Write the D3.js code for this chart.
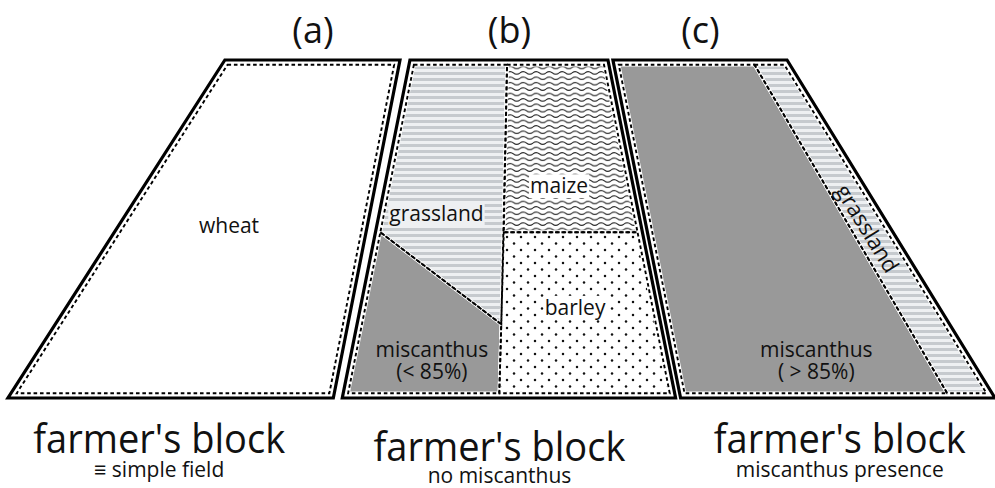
<!DOCTYPE html>
<html>
<head>
<meta charset="utf-8">
<script src="https://cdn.jsdelivr.net/npm/d3@7"></script>
<style>
  body { margin: 0; background: #fff; }
  text { font-family: "Open Sans", "Noto Sans", sans-serif; fill: #111; }
</style>
</head>
<body>
<script>
// block letters and captions
var blockIds = ['(a)', '(b)', '(c)'];
var blockTitles = ["farmer's block", "farmer's block", "farmer's block"];
var blockSubtitles = ['\u2261 simple field', 'no miscanthus', 'miscanthus presence'];
var captionX = [16.0, 50.2, 84.4];
var captionDrop = [0, 8, 0];

// field outlines in plan units (0-100 across, 0-100 top to bottom)
var blockTop = [[22.6, 40.2], [41.2, 61.1], [61.6, 79.1]];
var blockBottom = [[0.8, 33.5], [34.4, 67.9], [68.4, 100]];

// crop parcels inside each block, as (u, v) fractions of the inner field
var parcels = [
  [ {crop: 'wheat', pts: [[0, 0], [1, 0], [1, 1], [0, 1]]} ],
  [ {crop: 'grass', pts: [[0, 0], [0.49, 0], [0.474, 0.79], [0, 0.51]]},
    {crop: 'misc', pts: [[0, 0.51], [0.474, 0.79], [0.47, 1], [0, 1]]},
    {crop: 'maize', pts: [[0.49, 0], [1, 0], [1, 0.51], [0.48, 0.51]]},
    {crop: 'barley', pts: [[0.48, 0.51], [1, 0.51], [1, 1], [0.47, 1]]} ],
  [ {crop: 'misc', pts: [[0, 0], [0.82, 0], [0.87, 1], [0, 1]]},
    {crop: 'grass', pts: [[0.82, 0], [1, 0], [1, 1], [0.87, 1]]} ]
];

// labels: block, u, v, text lines, background
var labels = [
  {b: 0, u: 0.44, v: 0.49, lines: ['wheat'], bg: null, rot: 0, size: 21},
  {b: 1, u: 0.21, v: 0.455, lines: ['grassland'], bg: '#eef0f2', rot: 0, size: 21},
  {b: 1, u: 0.71, v: 0.37, lines: ['maize'], bg: '#fff', rot: 0, size: 21},
  {b: 1, u: 0.73, v: 0.74, lines: ['barley'], bg: '#fff', rot: 0, size: 21},
  {b: 1, u: 0.25, v: 0.9, lines: ['miscanthus', '(< 85%)'], bg: null, rot: 0, size: 21},
  {b: 2, u: 0.48, v: 0.9, lines: ['miscanthus', '( > 85%)'], bg: null, rot: 0, size: 21},
  {b: 2, u: 0.92, v: 0.5, lines: ['grassland'], bg: null, rot: 58.4, size: 22}
];

var width = 995, height = 488;
var x = d3.scaleLinear().domain([0, 100]).range([0, 995]);
var y = d3.scaleLinear().domain([0, 100]).range([60, 398]);
var inset = 4.8;

var svg = d3.select('body').append('svg')
  .attr('width', width).attr('height', height);

var defs = svg.append('defs');

var grass = defs.append('pattern').attr('id', 'grass')
  .attr('patternUnits', 'userSpaceOnUse').attr('width', 10).attr('height', 6);
grass.append('rect').attr('width', 10).attr('height', 6).attr('fill', '#eef0f2');
grass.append('rect').attr('width', 10).attr('height', 3).attr('fill', '#c6cace');

var maize = defs.append('pattern').attr('id', 'maize')
  .attr('patternUnits', 'userSpaceOnUse').attr('width', 13).attr('height', 5.4);
maize.append('rect').attr('width', 13).attr('height', 5.4).attr('fill', '#fff');
maize.append('path').attr('d', 'M0,2.7 Q3.25,0.1 6.5,2.7 T13,2.7')
  .attr('fill', 'none').attr('stroke', '#222').attr('stroke-width', 1);

var barley = defs.append('pattern').attr('id', 'barley')
  .attr('patternUnits', 'userSpaceOnUse').attr('width', 14).attr('height', 13);
barley.append('rect').attr('width', 14).attr('height', 13).attr('fill', '#fff');
barley.append('circle').attr('cx', 3).attr('cy', 3).attr('r', 1.25).attr('fill', '#111');
barley.append('circle').attr('cx', 10).attr('cy', 9.5).attr('r', 1.25).attr('fill', '#111');

var cropFill = {wheat: '#fff', grass: 'url(#grass)', maize: 'url(#maize)',
  barley: 'url(#barley)', misc: '#999'};

function outer(i) {
  return [[x(blockTop[i][0]), y(0)], [x(blockTop[i][1]), y(0)],
          [x(blockBottom[i][1]), y(100)], [x(blockBottom[i][0]), y(100)]];
}

// move each edge inward and intersect neighbours
function shrink(poly, d) {
  var n = poly.length, lines = [];
  for (var k = 0; k < n; k++) {
    var p = poly[k], q = poly[(k + 1) % n];
    var dx = q[0] - p[0], dy = q[1] - p[1], l = Math.sqrt(dx * dx + dy * dy);
    var nx = -dy / l * d, ny = dx / l * d;
    lines.push([[p[0] + nx, p[1] + ny], [q[0] + nx, q[1] + ny]]);
  }
  var out = [];
  for (var k = 0; k < n; k++) {
    var a = lines[(k + n - 1) % n], b = lines[k];
    var x1 = a[0][0], y1 = a[0][1], x2 = a[1][0], y2 = a[1][1];
    var x3 = b[0][0], y3 = b[0][1], x4 = b[1][0], y4 = b[1][1];
    var den = (x1 - x2) * (y3 - y4) - (y1 - y2) * (x3 - x4);
    var t = ((x1 - x3) * (y3 - y4) - (y1 - y3) * (x3 - x4)) / den;
    out.push([x1 + t * (x2 - x1), y1 + t * (y2 - y1)]);
  }
  return out;
}

function mapper(q) {
  return function(uv) {
    var u = uv[0], v = uv[1];
    var lx = q[0][0] + (q[3][0] - q[0][0]) * v, ly = q[0][1] + (q[3][1] - q[0][1]) * v;
    var rx = q[1][0] + (q[2][0] - q[1][0]) * v, ry = q[1][1] + (q[2][1] - q[1][1]) * v;
    return [lx + (rx - lx) * u, ly + (ry - ly) * u];
  };
}

var line = d3.line().curve(d3.curveLinearClosed);

blockIds.forEach(function(id, i) {
  var g = svg.append('g');
  var o = outer(i);
  var inner = shrink(o, inset);
  var m = mapper(inner);

  g.append('path').attr('d', line(o))
    .attr('fill', '#fff').attr('stroke', '#000')
    .attr('stroke-width', 3.2).attr('stroke-linejoin', 'miter');

  var shapes = parcels[i].map(function(p) {
    return {crop: p.crop, d: line(p.pts.map(m))};
  });

  g.selectAll('path.fill').data(shapes).enter().append('path')
    .attr('class', 'fill').attr('d', function(d) { return d.d; })
    .attr('fill', function(d) { return cropFill[d.crop]; });
  g.selectAll('path.halo').data(shapes).enter().append('path')
    .attr('class', 'halo').attr('d', function(d) { return d.d; })
    .attr('fill', 'none').attr('stroke', '#fff').attr('stroke-width', 3.4);
  g.selectAll('path.dash').data(shapes).enter().append('path')
    .attr('class', 'dash').attr('d', function(d) { return d.d; })
    .attr('fill', 'none').attr('stroke', '#000').attr('stroke-width', 1.9)
    .attr('stroke-dasharray', '3.6,2.8');

  labels.filter(function(l) { return l.b === i; }).forEach(function(l) {
    var c = m([l.u, l.v]);
    var lg = g.append('g').attr('transform', 'translate(' + c[0] + ',' + c[1] + ') rotate(' + l.rot + ')');
    var rect = lg.append('rect');
    var t = lg.append('text').attr('text-anchor', 'middle').attr('font-size', l.size);
    t.selectAll('tspan').data(l.lines).enter().append('tspan')
      .attr('x', 0).attr('dy', function(d, j) { return j === 0 ? (l.lines.length === 1 ? 7 : -3) : 22; })
      .text(function(d) { return d; });
    if (l.bg) {
      var bb = t.node().getBBox();
      rect.attr('x', bb.x - 1).attr('y', bb.y + 3).attr('width', bb.width + 2)
        .attr('height', bb.height - 4).attr('fill', l.bg);
    } else {
      rect.remove();
    }
  });

  var cx = (x(blockTop[i][0]) + x(blockTop[i][1])) / 2;
  svg.append('text').attr('x', cx + 0.5).attr('y', 43)
    .attr('text-anchor', 'middle').attr('font-size', 36).text(id);
  svg.append('text').attr('x', x(captionX[i])).attr('y', 453 + captionDrop[i])
    .attr('text-anchor', 'middle').attr('font-size', 41)
    .attr('textLength', 252).attr('lengthAdjust', 'spacingAndGlyphs')
    .text(blockTitles[i]);
  svg.append('text').attr('x', x(captionX[i])).attr('y', 477 + captionDrop[i] * 0.75)
    .attr('text-anchor', 'middle').attr('font-size', 21)
    .text(blockSubtitles[i]);
});
</script>
</body>
</html>
